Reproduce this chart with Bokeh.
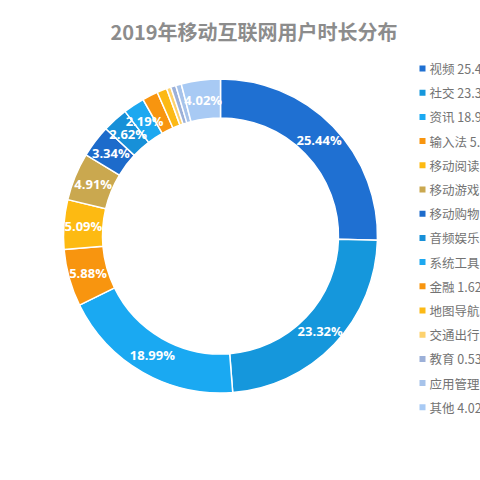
import math
from bokeh.plotting import figure
from bokeh.models import Range1d, ColumnDataSource
from bokeh.core.properties import value
from bokeh.embed import file_html
from bokeh.resources import INLINE

# ---- data ----
categories = ["视频", "社交", "资讯", "输入法", "移动阅读", "移动游戏", "移动购物",
              "音频娱乐", "系统工具", "金融", "地图导航", "交通出行", "教育", "应用管理", "其他"]
shares = [25.44, 23.32, 18.99, 5.88, 5.09, 4.91, 3.34,
          2.62, 2.19, 1.62, 1.02, 0.45, 0.53, 0.58, 4.02]
colors = ["#1F70D2", "#1597DC", "#1AA9F2", "#F8950F", "#FDBA12", "#CAA84F", "#1D6BCB",
          "#1790D8", "#1DA8F0", "#F8950F", "#FCB915", "#FDD26E", "#9CB0D8", "#A7C3EA", "#A8CAF4"]
title_text = "2019年移动互联网用户时长分布"

W, H = 480, 480
M = 0  # page offset observed


def dx(px):
    return px - M


def dy(py):
    return H + M - py


p = figure(width=W, height=H, output_backend="svg", toolbar_location=None,
           x_range=Range1d(0, W), y_range=Range1d(0, H), min_border=0)
p.axis.visible = False
p.grid.visible = False
p.outline_line_color = None
p.background_fill_color = "white"
p.border_fill_color = "white"

cx, cy = dx(220), dy(235.5)
r_out, r_in = 157, 118

total = sum(shares)
starts, ends, mids = [], [], []
cum = 0.0
for s in shares:
    a0 = math.pi / 2 - 2 * math.pi * cum / total
    cum += s
    a1 = math.pi / 2 - 2 * math.pi * cum / total
    starts.append(a0)
    ends.append(a1)
    mids.append((a0 + a1) / 2)

src = ColumnDataSource(dict(start=starts, end=ends, color=colors, cat=categories))
p.annular_wedge(x=cx, y=cy, inner_radius=r_in, outer_radius=r_out,
                start_angle="start", end_angle="end", direction="clock",
                fill_color="color", line_color="white", line_width=1.5, source=src)

# slice labels
r_lab = (r_in + r_out) / 2
lx, ly, lt = [], [], []
for s, m in zip(shares, mids):
    if s >= 2:
        lx.append(cx + r_lab * math.cos(m))
        ly.append(cy + r_lab * math.sin(m))
        lt.append(f"{s:.2f}%")
p.text(x=lx, y=ly, text=lt, text_color="white", text_font=value("Open Sans"),
       text_font_style="bold", text_font_size="13px",
       text_align="center", text_baseline="middle")

# title
p.text(x=[dx(253.5)], y=[dy(31)], text=[title_text], text_color="#8c8c8c",
       text_font=value("Noto Sans CJK SC"), text_font_style="bold",
       text_font_size="20px", text_align="center", text_baseline="middle")

# legend (manual, clipped at right edge like the reference)
ys = [dy(68 + 24.2 * i) for i in range(len(categories))]
p.rect(x=[dx(422)] * len(categories), y=ys, width=6, height=6,
       fill_color=colors, line_color=None)
p.text(x=[dx(429)] * len(categories), y=ys,
       text=[f"{c} {s:.2f}%" for c, s in zip(categories, shares)],
       text_color="#737373", text_font=value("Noto Sans CJK SC"),
       text_font_size="12.5px", text_align="left", text_baseline="middle")

open("out.html", "w").write(file_html(p, INLINE))
